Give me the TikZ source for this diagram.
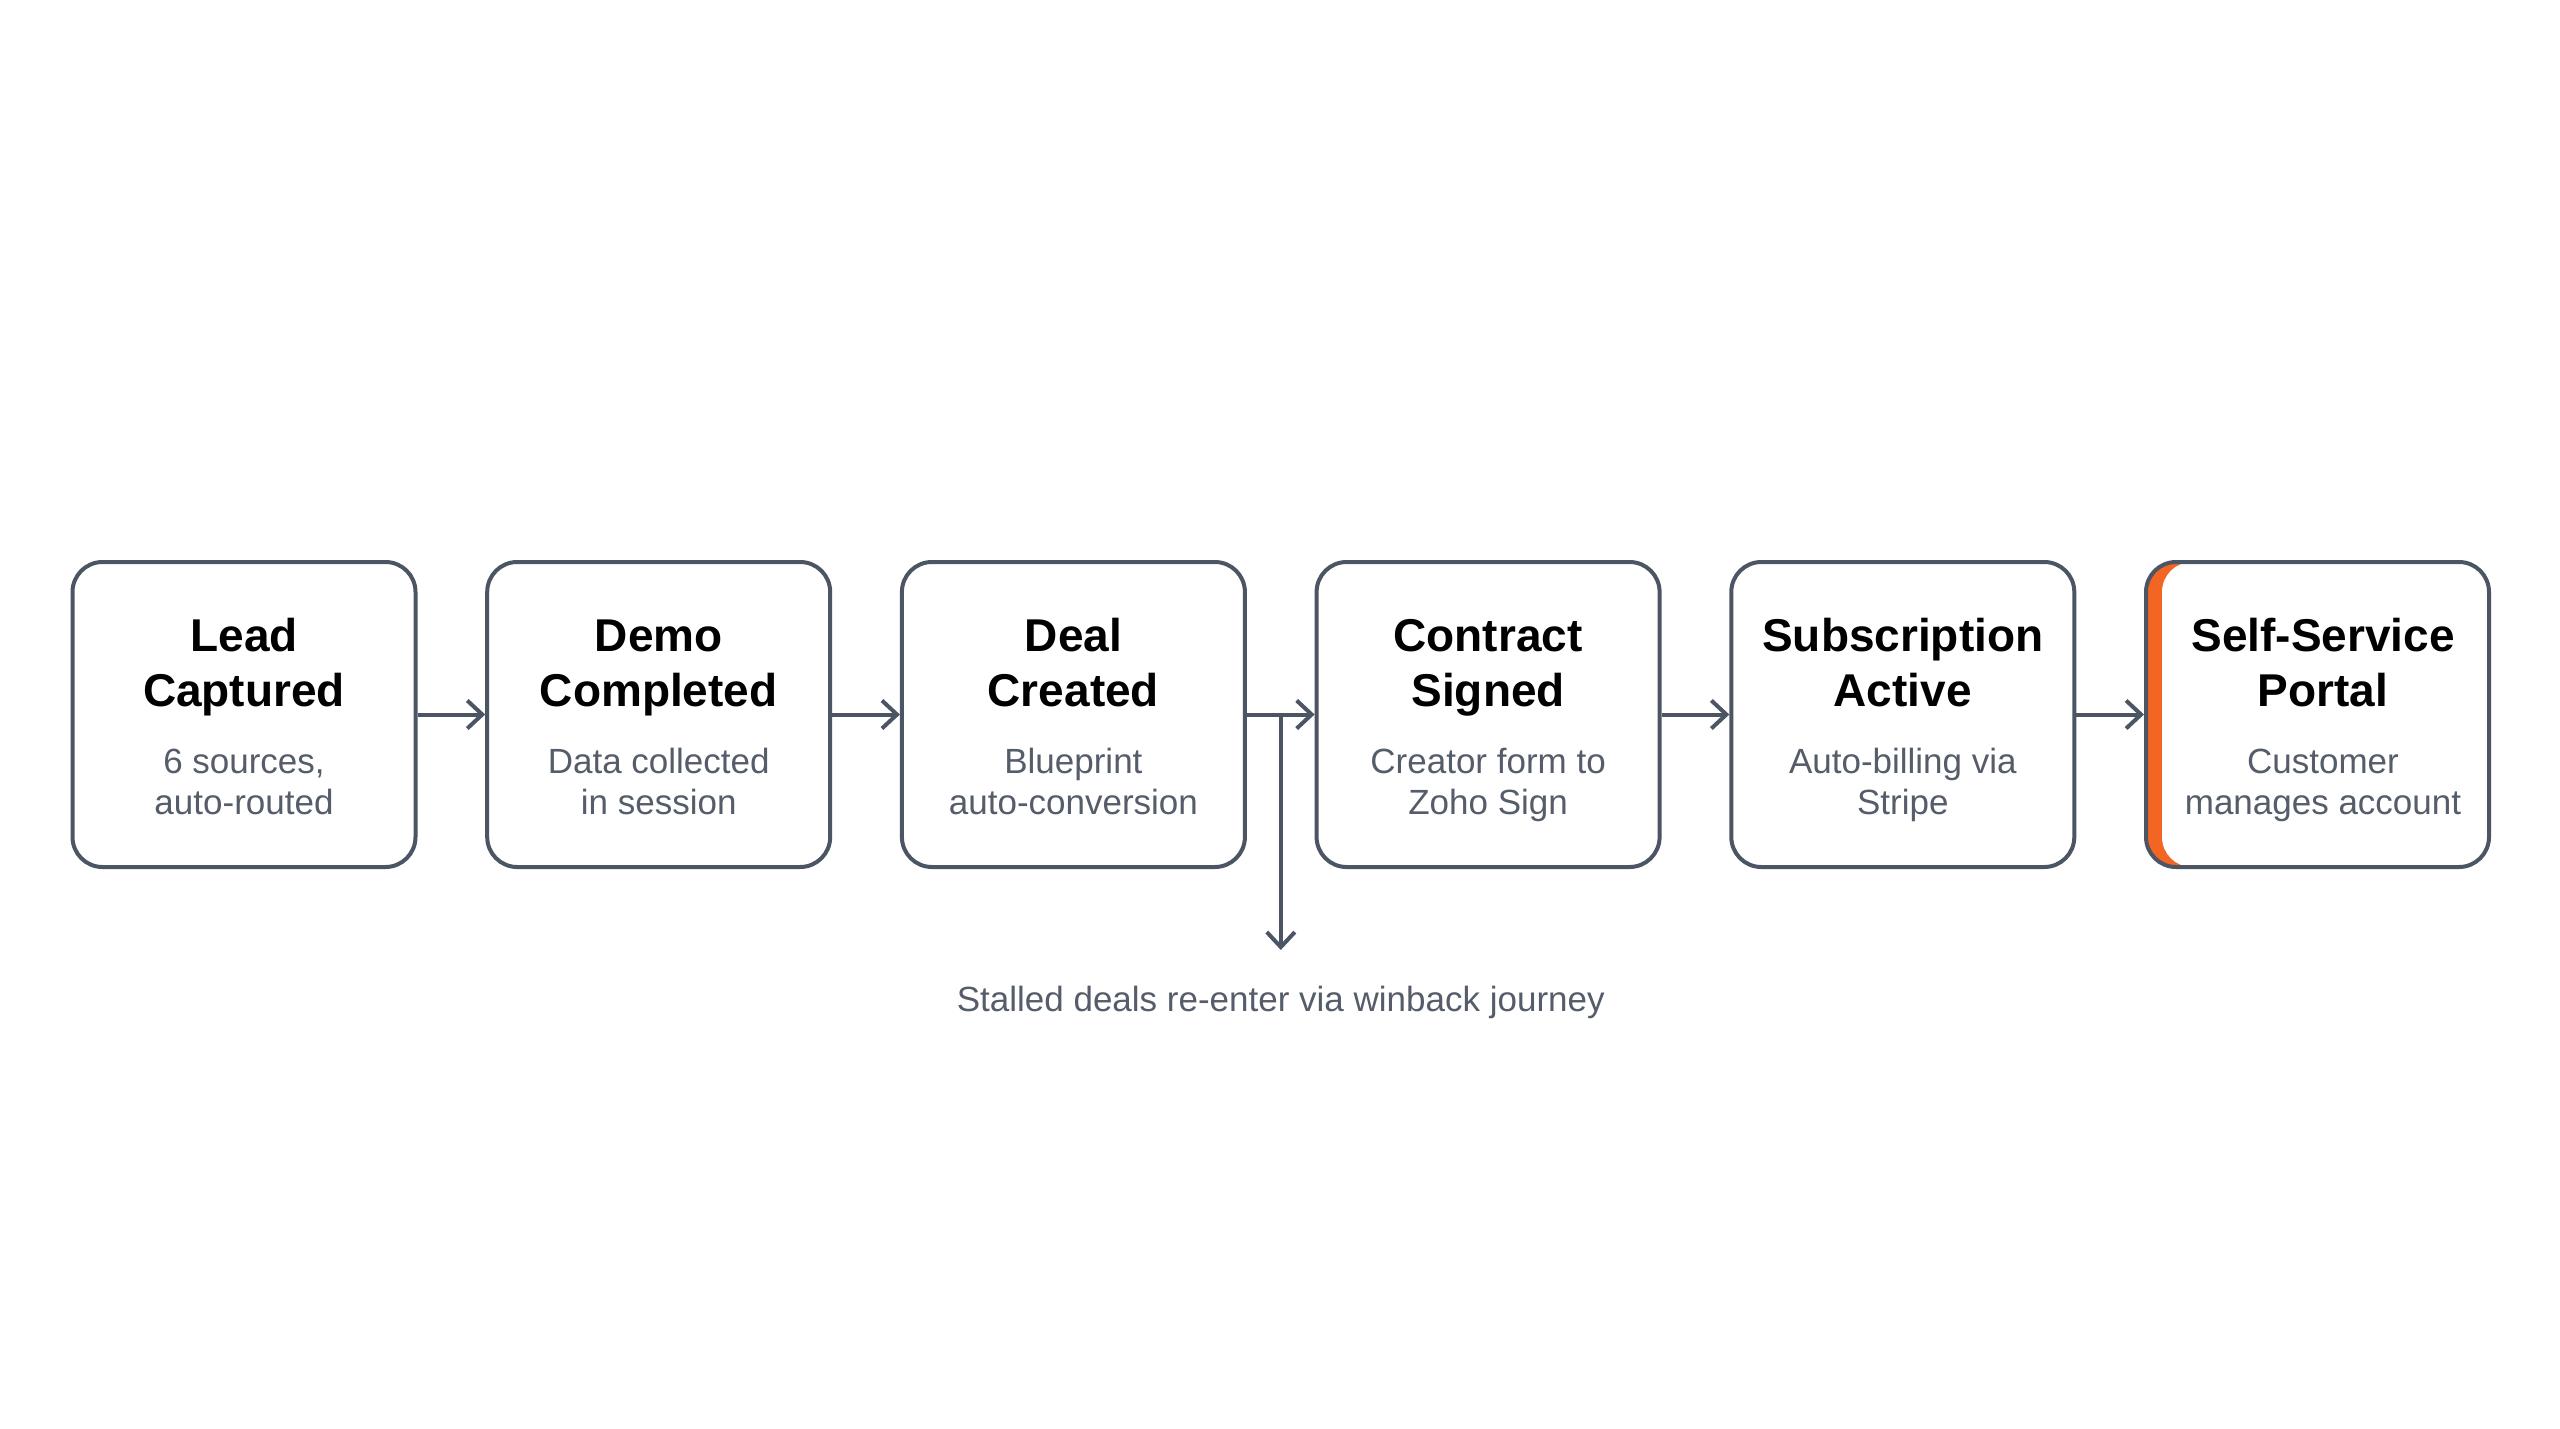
\documentclass[tikz,border=0pt]{standalone}
\usepackage{fontspec}
\setmainfont{Liberation Sans}
\usetikzlibrary{arrows.meta}
\definecolor{edge}{HTML}{4B5563}
\definecolor{subtxt}{HTML}{555D6A}
\definecolor{accent}{HTML}{F26522}
\tikzset{
  stage/.style={draw=edge, line width=4pt, rounded corners=30pt, fill=white,
    minimum width=343pt, minimum height=305pt, inner sep=0pt},
  ttl/.style={font=\fontsize{46}{55}\selectfont\bfseries, text=black, anchor=base, inner sep=0pt},
  sub/.style={font=\fontsize{35}{41}\selectfont, text=subtxt, anchor=base, inner sep=0pt},
  flow/.style={draw=edge, line width=4pt,
    -{Straight Barb[length=15pt,width=28pt,line width=4pt]}},
}
\begin{document}
\begin{tikzpicture}[x=1pt,y=-1pt]
\useasboundingbox[fill=white] (0,0) rectangle (2560,1429);
% stages
\node[stage] (s1) at (244,714.5) {};
\node[stage] (s2) at (658.7,714.5) {};
\node[stage] (s3) at (1073.4,714.5) {};
\node[stage] (s4) at (1488.1,714.5) {};
\node[stage] (s5) at (1902.8,714.5) {};
\node[stage, path picture={
    \fill[accent] (path picture bounding box.south west) rectangle (path picture bounding box.north east);
    \fill[white, rounded corners=30pt] ([xshift=16pt]path picture bounding box.south west) rectangle ([xshift=40pt]path picture bounding box.north east);
  }] (s6) at (2317.5,714.5) {};
% titles
\node[ttl] (t1a) at (244,651) {Lead};
\node[ttl] (t1b) at (244,706) {Captured};
\node[sub] (d1a) at (244,773) {6 sources,};
\node[sub] (d1b) at (244,814) {auto-routed};
\node[ttl] (t2a) at (658.7,651) {Demo};
\node[ttl] (t2b) at (658.7,706) {Completed};
\node[sub] (d2a) at (658.7,773) {Data collected};
\node[sub] (d2b) at (658.7,814) {in session};
\node[ttl] (t3a) at (1073.4,651) {Deal};
\node[ttl] (t3b) at (1073.4,706) {Created};
\node[sub] (d3a) at (1073.4,773) {Blueprint};
\node[sub] (d3b) at (1073.4,814) {auto-conversion};
\node[ttl] (t4a) at (1488.1,651) {Contract};
\node[ttl] (t4b) at (1488.1,706) {Signed};
\node[sub] (d4a) at (1488.1,773) {Creator form to};
\node[sub] (d4b) at (1488.1,814) {Zoho Sign};
\node[ttl] (t5a) at (1902.8,651) {Subscription};
\node[ttl] (t5b) at (1902.8,706) {Active};
\node[sub] (d5a) at (1902.8,773) {Auto-billing via};
\node[sub] (d5b) at (1902.8,814) {Stripe};
\node[ttl] (t6a) at (2323,651) {Self-Service};
\node[ttl] (t6b) at (2323,706) {Portal};
\node[sub] (d6a) at (2323,773) {Customer};
\node[sub] (d6b) at (2323,814) {manages account};
% connectors
\draw[flow] (s1.east) -- (s2.west);
\draw[flow] (s2.east) -- (s3.west);
\draw[flow] (s3.east) -- (s4.west);
\draw[flow] (s4.east) -- (s5.west);
\draw[flow] (s5.east) -- (s6.west);
\coordinate (br) at (1280.8,714.5);
\coordinate (brend) at (1280.8,950);
\draw[flow] (br) -- (brend);
\node[sub] (note) at (1280.8,1011) {Stalled deals re-enter via winback journey};
\end{tikzpicture}
\end{document}
